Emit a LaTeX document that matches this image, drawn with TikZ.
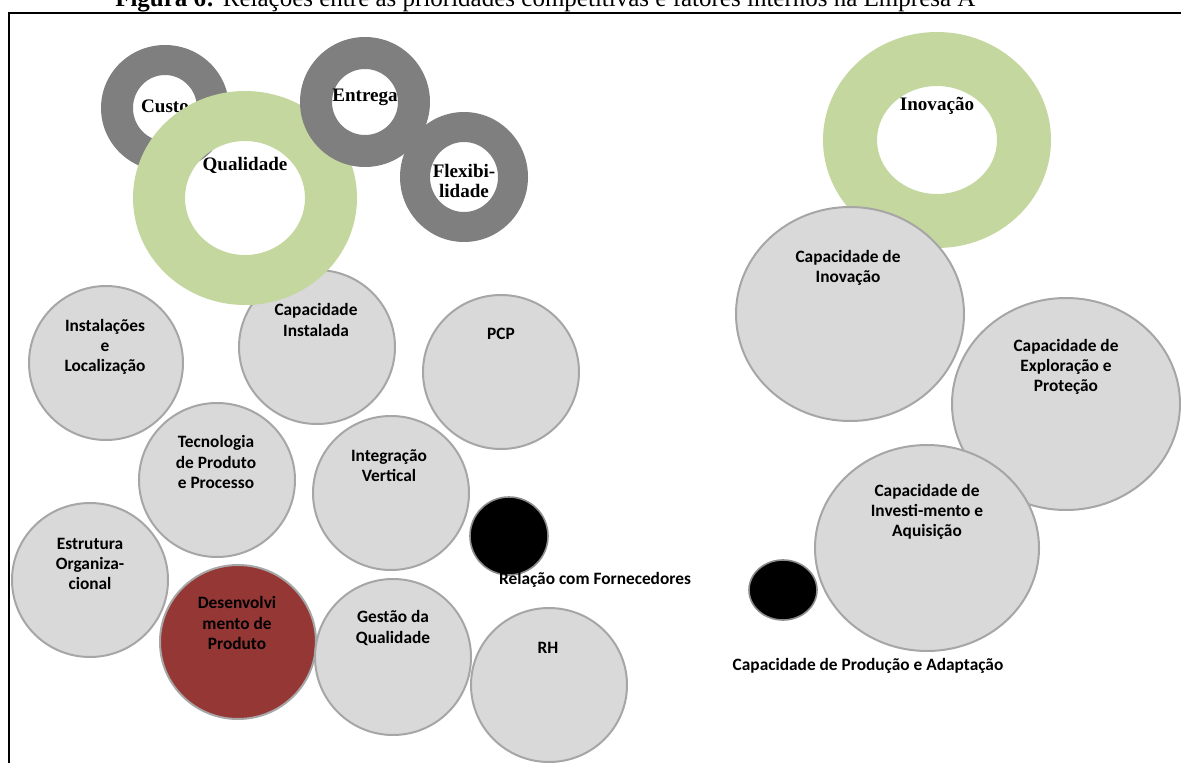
\documentclass[tikz,border=0pt]{standalone}
\usepackage{fontspec}
\setmainfont{Liberation Serif}
\newfontfamily\calibri{Carlito}
\definecolor{ringgray}{HTML}{7F7F7F}
\definecolor{ringgreen}{HTML}{C4D79E}
\definecolor{factorfill}{HTML}{D9D9D9}
\definecolor{factoredge}{HTML}{A6A6A6}
\definecolor{factorred}{HTML}{953735}
\tikzset{
  factor/.style={fill=factorfill, draw=factoredge, line width=1.5pt},
  keyfactor/.style={fill=factorred, draw=factoredge, line width=1.5pt},
  blackdot/.style={fill=black, draw=black!45, line width=1.2pt},
  grayring/.style={fill=ringgray, even odd rule},
  greenring/.style={fill=ringgreen, even odd rule},
  lbl/.style={font=\calibri\bfseries\fontsize{13}{15.2}\selectfont, align=center, inner sep=0pt},
  prio/.style={font=\bfseries\fontsize{14.3}{14.5}\selectfont, align=center, inner sep=0pt}
}
\begin{document}
\begin{tikzpicture}[x=0.75pt,y=-0.75pt]
\useasboundingbox (0,0) rectangle (1181,763);
\clip (0,0) rectangle (1181,763);

% caption and frame
\node[anchor=base west, inner sep=0pt] (caption) at (115,7)
  {\resizebox{645pt}{!}{\textbf{Figura 6:} Relações entre as prioridades competitivas e fatores internos na Empresa A}};
\draw[line width=1.6pt] (9,770) -- (9,13) -- (1190,13);

% competitive priority: cost
\fill[grayring] (165,108) ellipse [x radius=64, y radius=63] (165,108) ellipse [x radius=32, y radius=33];
\node[prio] (custo) at (165,106) {Custo};

% internal factors (left group)
\draw[factor] (106,363) ellipse [x radius=77, y radius=77];
\draw[factor] (317,347) ellipse [x radius=78, y radius=77];
\draw[factor] (501,372) ellipse [x radius=78, y radius=77];
\draw[factor] (217,480) ellipse [x radius=78, y radius=77];
\draw[factor] (391,493) ellipse [x radius=78, y radius=77];
\draw[factor] (90,580) ellipse [x radius=78, y radius=77];
\draw[keyfactor] (238,642) ellipse [x radius=78, y radius=77];
\draw[factor] (393,657) ellipse [x radius=78, y radius=78];
\draw[factor] (549,685) ellipse [x radius=78, y radius=77];
\draw[blackdot] (509,536) ellipse [x radius=39, y radius=39];

\node[lbl] (instal) at (105,347) {Instalações\\e\\Localização};
\node[lbl] (capinst) at (316,320) {Capacidade\\Instalada};
\node[lbl] (pcp) at (501,334) {PCP};
\node[lbl] (tecno) at (216,462) {Tecnologia\\de Produto\\e Processo};
\node[lbl] (integ) at (389,466) {Integração\\Vertical};
\node[lbl] (estrut) at (90,564) {Estrutura\\Organiza-\\cional};
\node[lbl] (desenv) at (237,623) {Desenvolvi\\mento de\\Produto};
\node[lbl] (gestao) at (393,628) {Gestão da\\Qualidade};
\node[lbl] (rh) at (548,648) {RH};
\node[lbl] (fornec) at (595,580) {Relação com Fornecedores};

% competitive priorities: quality, delivery, flexibility
\fill[greenring] (245,198) ellipse [x radius=112, y radius=107] (245,198) ellipse [x radius=60, y radius=57];
\node[prio] (qualidade) at (245,165) {Qualidade};
\fill[grayring] (365,102) ellipse [x radius=65, y radius=65] (365,102) ellipse [x radius=33, y radius=33];
\node[prio] (entrega) at (365,97) {Entrega};
\fill[grayring] (464,177) ellipse [x radius=64, y radius=65] (464,177) ellipse [x radius=34, y radius=35];
\node[prio] (flex) at (464,181) {Flexibi-\\lidade};

% competitive priority: innovation
\fill[greenring] (937,140) ellipse [x radius=114, y radius=108] (937,140) ellipse [x radius=60, y radius=54];
\node[prio] (inovacao) at (937,106) {Inovação};

% internal factors (right group)
\draw[factor] (850,314) ellipse [x radius=114, y radius=107];
\draw[factor] (1066,404) ellipse [x radius=114, y radius=106];
\draw[factor] (927,548) ellipse [x radius=112, y radius=103];
\draw[blackdot] (783,590) ellipse [x radius=34, y radius=30];

\node[lbl] (capinov) at (848,268) {Capacidade de\\Inovação};
\node[lbl] (explor) at (1066,367) {Capacidade de\\Exploração e\\Proteção};
\node[lbl] (invest) at (927,512) {Capacidade de\\Investi-mento e\\Aquisição};
\node[lbl] (producao) at (868,666) {Capacidade de Produção e Adaptação};
\end{tikzpicture}
\end{document}
